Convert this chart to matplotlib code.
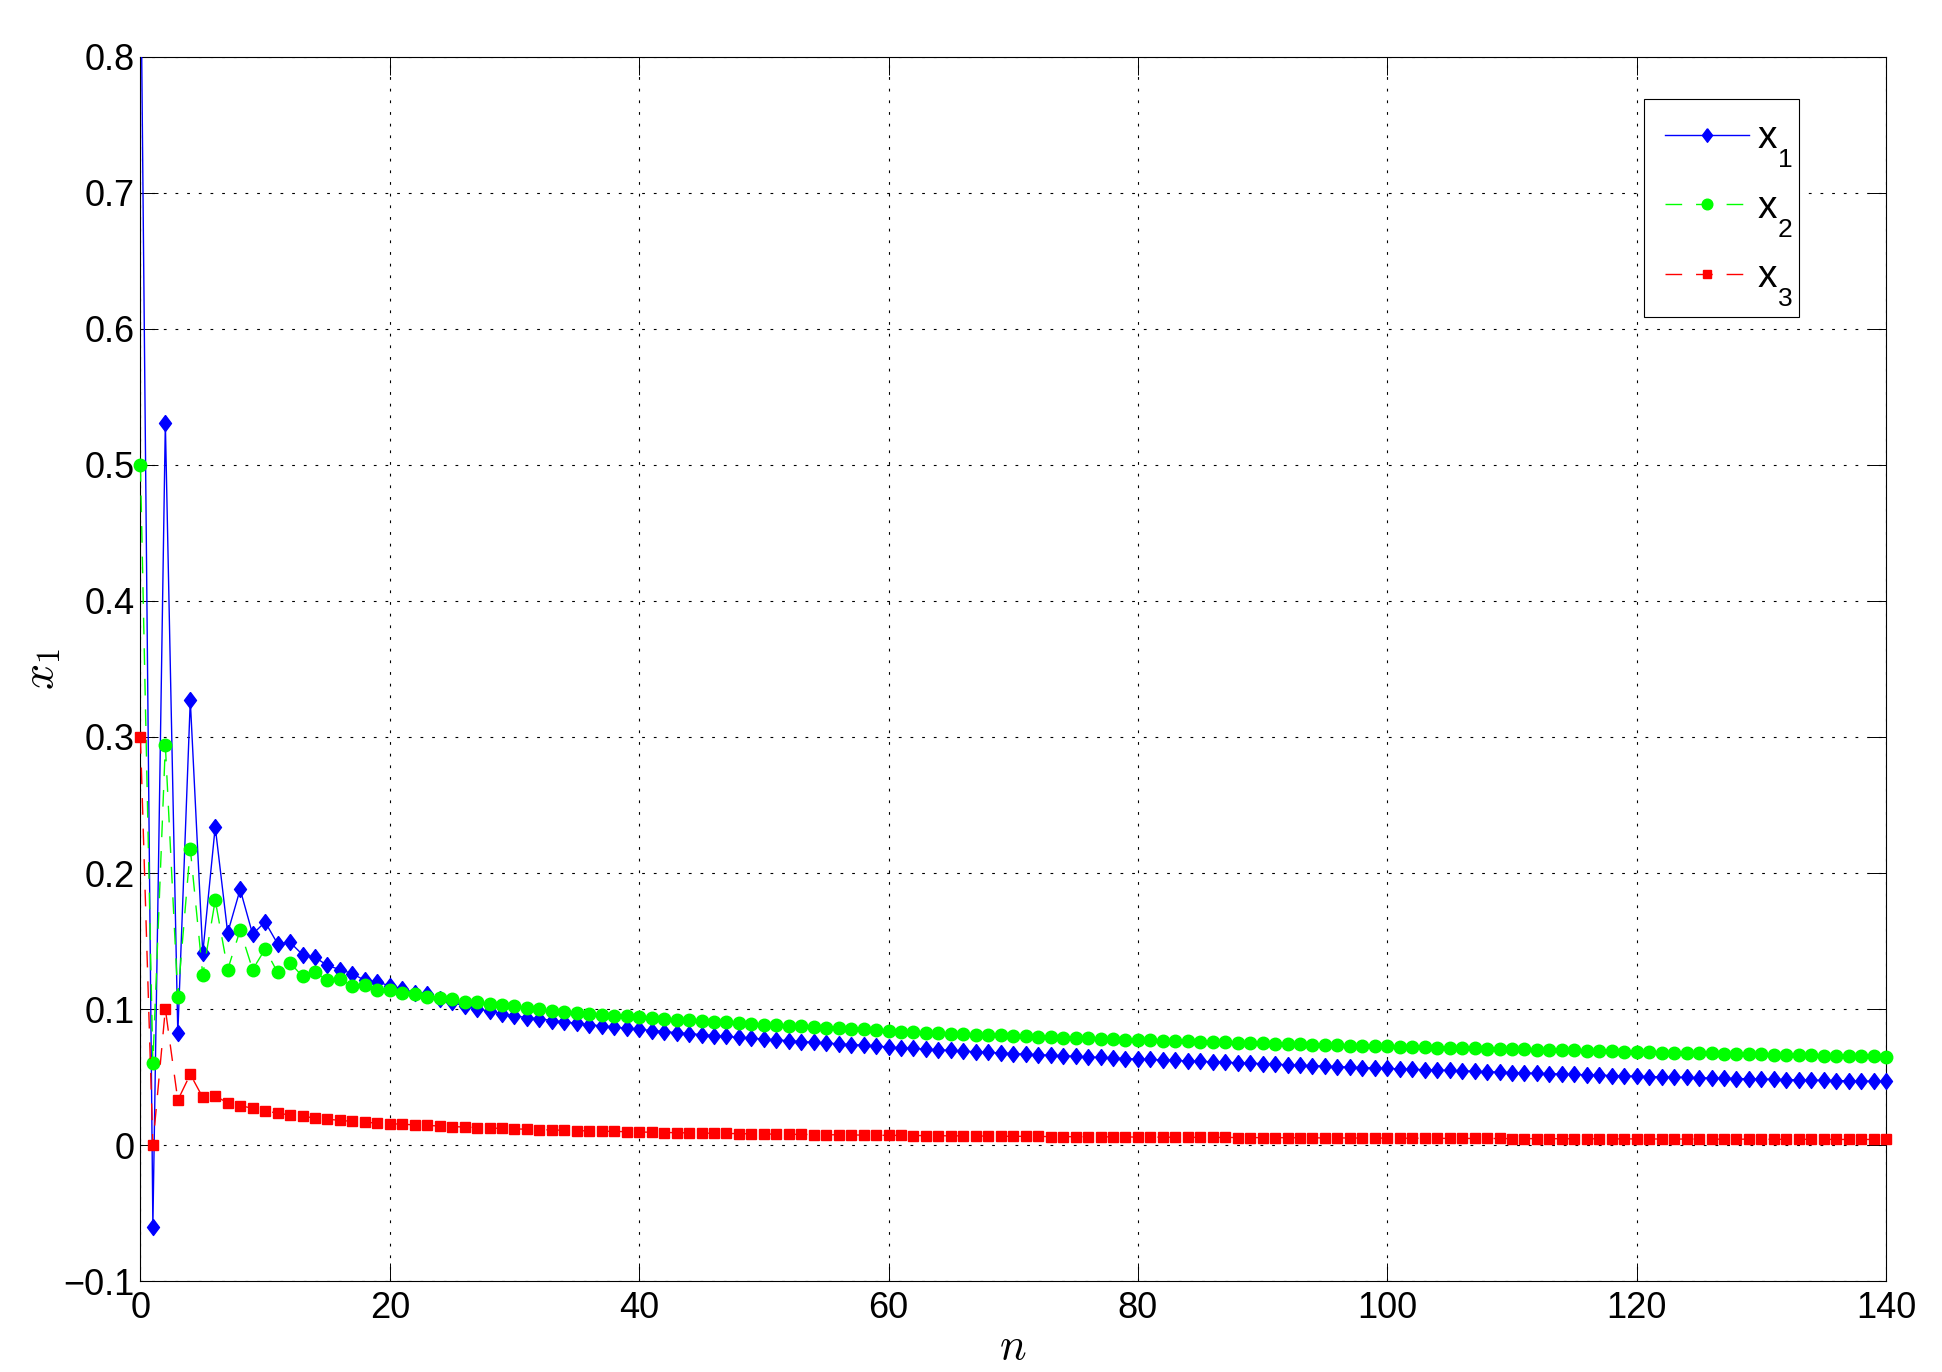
import numpy as np
import matplotlib.pyplot as plt
from matplotlib.lines import Line2D
from matplotlib.ticker import FuncFormatter, MultipleLocator

plt.rcParams['font.family'] = ['Liberation Sans', 'DejaVu Sans']
plt.rcParams['mathtext.fontset'] = 'cm'

# values, one per n = 0..140 (rows of ten)
x1 = [0.900, -0.060, 0.531, 0.082, 0.327, 0.141, 0.234, 0.156, 0.188, 0.155,
      0.164, 0.148, 0.149, 0.140, 0.138, 0.132, 0.129, 0.126, 0.121, 0.120,
      0.117, 0.115, 0.112, 0.111, 0.107, 0.105, 0.102, 0.100, 0.0985, 0.0963,
      0.0951, 0.0936, 0.0929, 0.0915, 0.0905, 0.0895, 0.0885, 0.0876, 0.0867, 0.0858,
      0.0850, 0.0842, 0.0834, 0.0826, 0.0819, 0.0812, 0.0805, 0.0798, 0.0791, 0.0785,
      0.0779, 0.0773, 0.0767, 0.0761, 0.0755, 0.0750, 0.0744, 0.0739, 0.0734, 0.0729,
      0.0720, 0.0715, 0.0710, 0.0705, 0.0700, 0.0695, 0.0690, 0.0686, 0.0681, 0.0677,
      0.0672, 0.0668, 0.0664, 0.0660, 0.0656, 0.0652, 0.0648, 0.0644, 0.0640, 0.0636,
      0.0632, 0.0629, 0.0625, 0.0622, 0.0618, 0.0615, 0.0612, 0.0608, 0.0605, 0.0602,
      0.0598, 0.0594, 0.0590, 0.0587, 0.0583, 0.0580, 0.0576, 0.0573, 0.0569, 0.0566,
      0.0563, 0.0560, 0.0557, 0.0554, 0.0551, 0.0548, 0.0545, 0.0542, 0.0539, 0.0536,
      0.0533, 0.0530, 0.0527, 0.0525, 0.0522, 0.0519, 0.0516, 0.0514, 0.0511, 0.0508,
      0.0505, 0.0503, 0.0501, 0.0499, 0.0497, 0.0495, 0.0493, 0.0491, 0.0489, 0.0487,
      0.0485, 0.0483, 0.0481, 0.0479, 0.0477, 0.0476, 0.0474, 0.0472, 0.0470, 0.0469,
      0.0468]

x2 = [0.500, 0.060, 0.294, 0.109, 0.218, 0.125, 0.180, 0.129, 0.158, 0.129,
      0.144, 0.127, 0.134, 0.124, 0.127, 0.121, 0.122, 0.117, 0.118, 0.114,
      0.114, 0.112, 0.111, 0.109, 0.108, 0.107, 0.105, 0.105, 0.104, 0.103,
      0.102, 0.1005, 0.0998, 0.0985, 0.0978, 0.0970, 0.0963, 0.0956, 0.0950, 0.0945,
      0.0940, 0.0934, 0.0928, 0.0922, 0.0917, 0.0911, 0.0906, 0.0901, 0.0896, 0.0891,
      0.0886, 0.0881, 0.0876, 0.0872, 0.0867, 0.0863, 0.0858, 0.0854, 0.0850, 0.0846,
      0.0838, 0.0834, 0.0830, 0.0827, 0.0823, 0.0819, 0.0816, 0.0812, 0.0809, 0.0806,
      0.0802, 0.0799, 0.0796, 0.0793, 0.0790, 0.0787, 0.0784, 0.0781, 0.0778, 0.0775,
      0.0772, 0.0770, 0.0767, 0.0764, 0.0762, 0.0759, 0.0757, 0.0754, 0.0752, 0.0749,
      0.0747, 0.0745, 0.0742, 0.0740, 0.0738, 0.0736, 0.0734, 0.0731, 0.0729, 0.0727,
      0.0725, 0.0723, 0.0721, 0.0719, 0.0717, 0.0715, 0.0713, 0.0711, 0.0709, 0.0707,
      0.0705, 0.0703, 0.0701, 0.0699, 0.0697, 0.0695, 0.0693, 0.0691, 0.0689, 0.0687,
      0.0685, 0.0682, 0.0680, 0.0678, 0.0677, 0.0675, 0.0673, 0.0671, 0.0670, 0.0668,
      0.0666, 0.0665, 0.0663, 0.0661, 0.0660, 0.0658, 0.0656, 0.0655, 0.0653, 0.0651,
      0.0650]

x3 = [0.300, 0.000, 0.100, 0.033, 0.052, 0.035, 0.036, 0.031, 0.029, 0.027,
      0.025, 0.0235, 0.022, 0.021, 0.020, 0.019, 0.0181, 0.0174, 0.0167, 0.0162,
      0.0157, 0.0153, 0.0148, 0.0144, 0.0140, 0.0136, 0.0132, 0.0128, 0.0125, 0.0122,
      0.0119, 0.0116, 0.0113, 0.0111, 0.0108, 0.0106, 0.0104, 0.0102, 0.0100, 0.0098,
      0.0096, 0.0094, 0.0092, 0.0091, 0.0089, 0.0088, 0.0086, 0.0085, 0.0084, 0.0082,
      0.0081, 0.0080, 0.0079, 0.0078, 0.0077, 0.0076, 0.0075, 0.0074, 0.0073, 0.0072,
      0.0071, 0.0071, 0.0070, 0.0069, 0.0068, 0.0068, 0.0067, 0.0066, 0.0066, 0.0065,
      0.0064, 0.0064, 0.0063, 0.0062, 0.0062, 0.0061, 0.0061, 0.0060, 0.0060, 0.0059,
      0.0059, 0.0058, 0.0058, 0.0057, 0.0057, 0.0056, 0.0056, 0.0056, 0.0055, 0.0055,
      0.0054, 0.0054, 0.0054, 0.0053, 0.0053, 0.0052, 0.0052, 0.0052, 0.0051, 0.0051,
      0.0051, 0.0050, 0.0050, 0.0050, 0.0049, 0.0049, 0.0049, 0.0048, 0.0048, 0.0048,
      0.0047, 0.0047, 0.0047, 0.0047, 0.0046, 0.0046, 0.0046, 0.0046, 0.0045, 0.0045,
      0.0045, 0.0045, 0.0044, 0.0044, 0.0044, 0.0044, 0.0043, 0.0043, 0.0043, 0.0043,
      0.0043, 0.0042, 0.0042, 0.0042, 0.0042, 0.0042, 0.0041, 0.0041, 0.0041, 0.0041,
      0.0041]

names = ['x', 'x', 'x']
subs = ['1', '2', '3']

n = np.arange(len(x1))
ylo, yhi = -0.1, 0.8

diamond = [(0, 1), (0.75, 0), (0, -1), (-0.75, 0), (0, 1)]
styles = [dict(color='b', ls='-', marker=diamond, ms=11.5),
          dict(color=(0, 1, 0), ls=(0, (12, 10)), marker='o', ms=9),
          dict(color='r', ls=(0, (12, 10)), marker='s', ms=7)]

fig = plt.figure(figsize=(19.42, 13.72), dpi=100)
ax = fig.add_axes([0.0723, 0.0663, 0.8989, 0.8922])

handles = []
for i, (y, st) in enumerate(zip([x1, x2, x3], styles)):
    y = np.array(y)
    ax.plot(n, y, color=st['color'], ls=st['ls'], lw=1.0, zorder=3 + i)
    # markers are not clipped at the frame, only points inside the limits are drawn
    ok = (y >= ylo) & (y <= yhi)
    ax.plot(n[ok], y[ok], ls='none', marker=st['marker'], ms=st['ms'],
            mfc=st['color'], mec=st['color'], mew=1, clip_on=False, zorder=3 + i)
    handles.append(Line2D([], [], color=st['color'], ls=st['ls'], lw=1.0,
                          marker=st['marker'], ms=st['ms'] * 0.85, mfc=st['color'],
                          mec=st['color']))

ax.set_xlim(0, 140)
ax.set_ylim(ylo, yhi)
ax.xaxis.set_major_locator(MultipleLocator(20))
ax.yaxis.set_major_locator(MultipleLocator(0.1))
ax.yaxis.set_major_formatter(FuncFormatter(lambda v, p: ('%g' % round(v, 2)).replace('-', '\u2212')))
ax.xaxis.set_major_formatter(FuncFormatter(lambda v, p: '%g' % v))
ax.tick_params(direction='in', length=13, width=0.7, top=True, right=True,
               labelsize=26)
ax.tick_params(axis='x', pad=7)
ax.tick_params(axis='y', pad=4)
for s in ax.spines.values():
    s.set_linewidth(0.8)
ax.grid(True, color='k', ls=(0, (2.5, 8)), lw=0.8)

ax.set_xlabel(r'$n$', fontsize=32, labelpad=1)
ax.set_ylabel(r'$x_1$', fontsize=33, labelpad=0)

leg = ax.legend(handles, [r'$\mathregular{%s}\ $' % s for s in names],
                loc='upper left', bbox_to_anchor=(0.8466, 0.9278),
                bbox_transform=fig.transFigure, fontsize=28, numpoints=1,
                handlelength=2.15, handletextpad=0.2, borderpad=0.55,
                labelspacing=0.86, borderaxespad=0, fancybox=False,
                framealpha=1, edgecolor='k')
leg.get_frame().set_linewidth(0.8)

# MATLAB style subscripts in the legend, set low under the baseline
for txt, s in zip(leg.get_texts(), subs):
    ax.annotate(s, xy=(0, 0), xycoords=txt, xytext=(15, 6),
                textcoords='offset points', fontsize=19, ha='left', va='top',
                zorder=7, annotation_clip=False)

plt.savefig('out.png')
